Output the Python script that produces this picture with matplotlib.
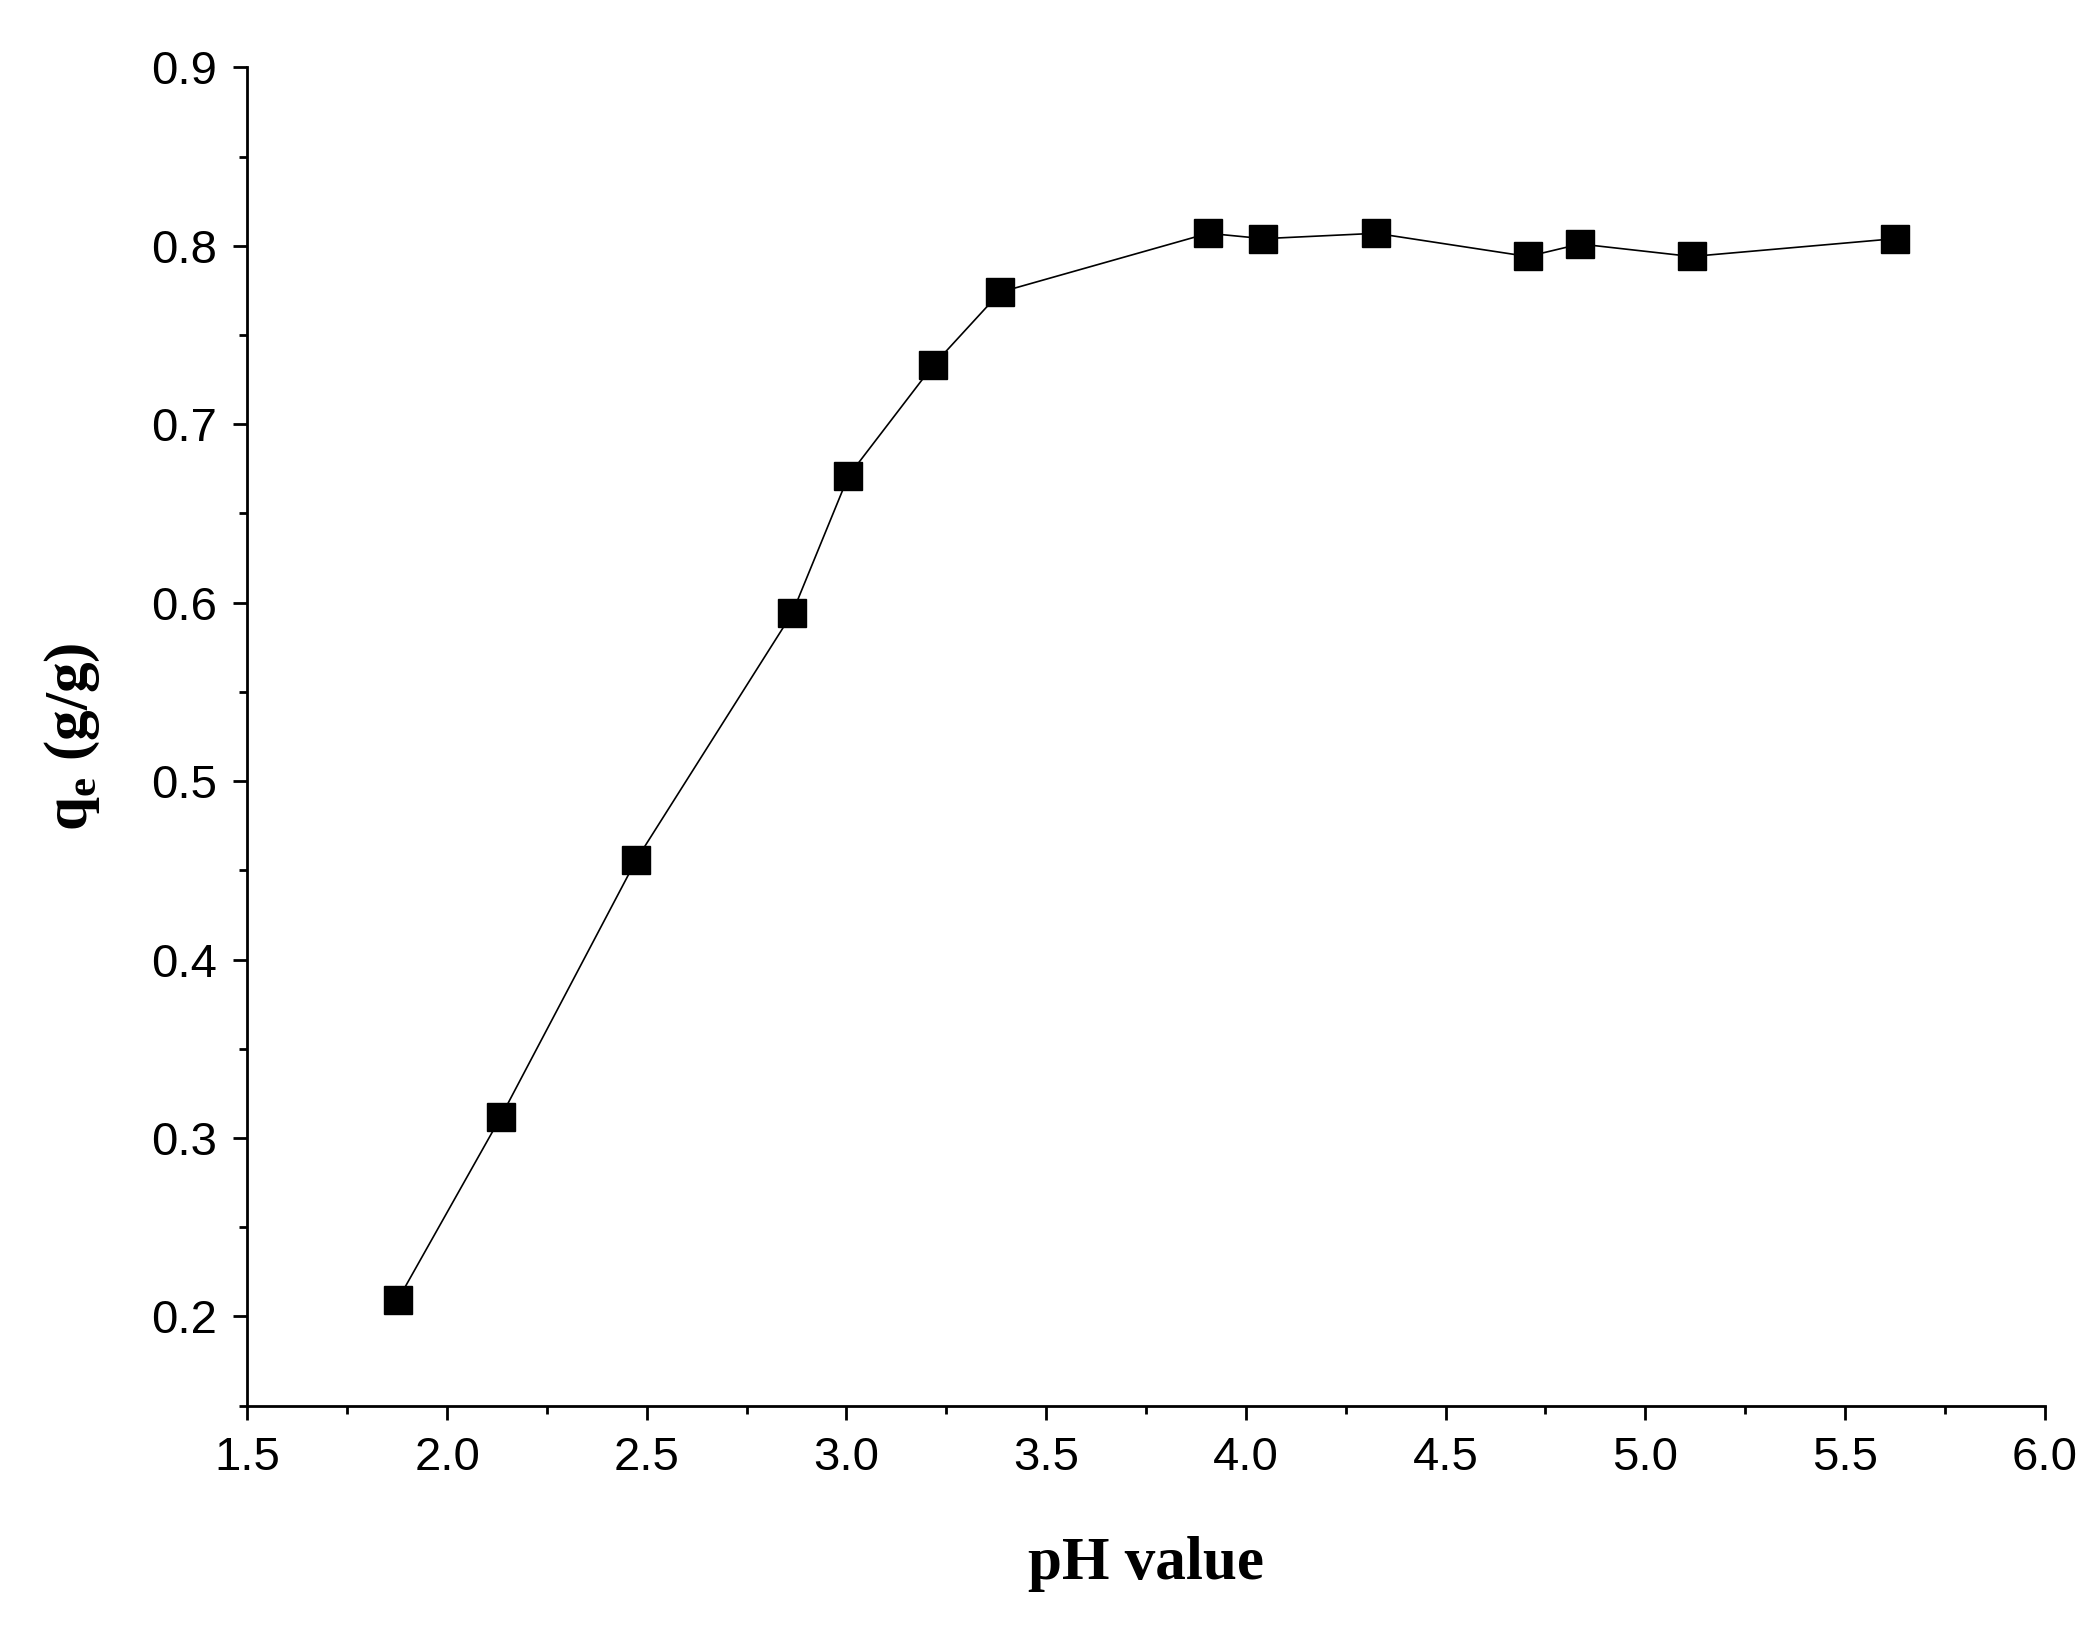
import matplotlib
matplotlib.use("Agg")
import matplotlib.pyplot as plt
from matplotlib.ticker import MultipleLocator

ph = [1.876, 2.135, 2.474, 2.864, 3.005, 3.217, 3.385, 3.906, 4.044, 4.326, 4.706, 4.837, 5.116, 5.626]
qe = [0.209, 0.312, 0.456, 0.594, 0.671, 0.733, 0.774, 0.807, 0.804, 0.807, 0.794, 0.801, 0.794, 0.804]

fig = plt.figure(figsize=(20.97, 16.43), dpi=100)
ax = fig.add_axes([0.118, 0.1445, 0.857, 0.8145])
ax.plot(ph, qe, color='black', lw=1.2, marker='s', ms=20, mfc='black', mec='black')
ax.set_xlim(1.5, 6.0)
ax.set_ylim(0.15, 0.9)
ax.xaxis.set_major_locator(MultipleLocator(0.5))
ax.xaxis.set_minor_locator(MultipleLocator(0.25))
ax.yaxis.set_minor_locator(MultipleLocator(0.05))
ax.set_yticks([0.2, 0.3, 0.4, 0.5, 0.6, 0.7, 0.8, 0.9])
for s in ['top', 'right']:
    ax.spines[s].set_visible(False)
for s in ['left', 'bottom']:
    ax.spines[s].set_linewidth(2)
ax.tick_params(which='major', direction='out', length=10, width=2, labelsize=34, pad=12)
ax.tick_params(which='minor', direction='out', length=6, width=2)
for lab in ax.get_xticklabels() + ax.get_yticklabels():
    lab.set_fontfamily('Liberation Sans')
ax.set_xlabel('pH value', fontfamily='Liberation Serif', fontweight='bold', fontsize=44, labelpad=40)
ax.set_ylabel(r'q$_\mathregular{e}$ (g/g)', fontfamily='Liberation Serif', fontweight='bold', fontsize=44, labelpad=35)
fig.savefig('out.png', dpi=100)
